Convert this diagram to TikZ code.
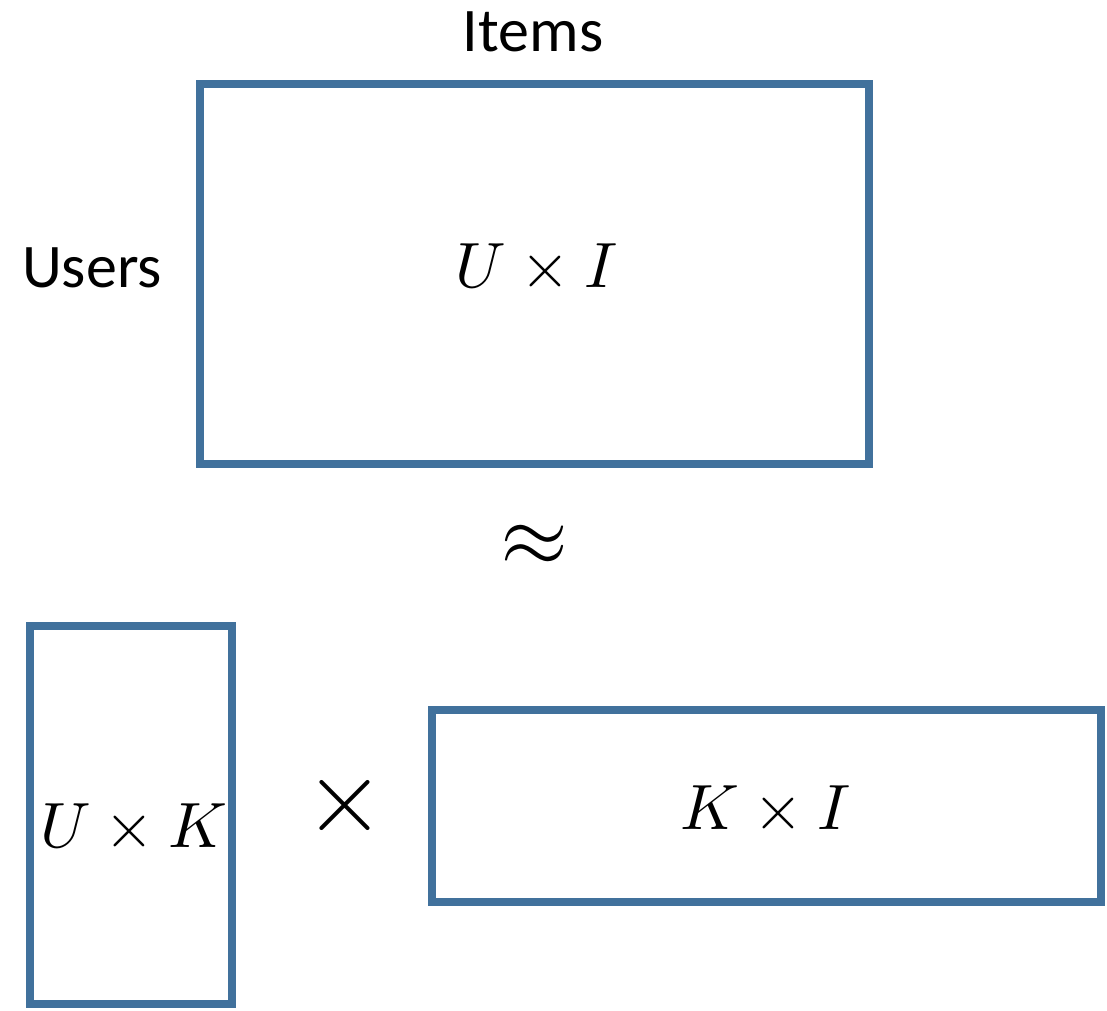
\documentclass[tikz,border=0pt]{standalone}
\usepackage{fontspec}
\usepackage{unicode-math}
\setmainfont{Carlito}
\setmathfont{Latin Modern Math}
\definecolor{boxblue}{HTML}{41719C}
\begin{document}
\begin{tikzpicture}[x=1pt,y=-1pt,
  mat/.style={draw=boxblue,line width=8pt},
  lab/.style={font=\fontsize{62}{70}\selectfont,inner sep=0pt},
  mth/.style={font=\fontsize{64}{72}\selectfont,inner sep=0pt}]
\useasboundingbox (0,0) rectangle (1107,1010);
\draw[mat] (200,84) rectangle (869,464);
\draw[mat] (30,626) rectangle (232,1004);
\draw[mat] (432,710) rectangle (1101,902);
\node[lab] (items) at (533,32) {Items};
\node[lab] (users) at (92,268) {Users};
\node[mth] (ui) at (537,266) {$U\times I$};
\node[mth,font=\fontsize{88}{96}\selectfont] (approx) at (535,545) {$\approx$};
\node[mth] (uk) at (134,826) {$U\times K$};
\node[mth,font=\fontsize{104}{110}\selectfont] (times) at (345,806) {$\times$};
\node[mth] (ki) at (766,808) {$K\times I$};
\end{tikzpicture}
\end{document}
